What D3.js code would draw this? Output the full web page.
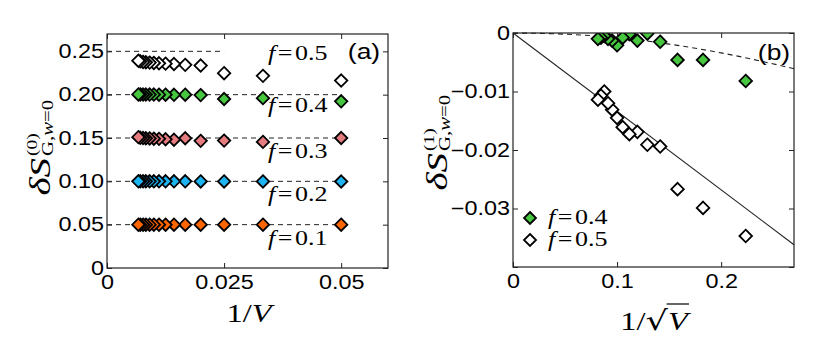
<!doctype html>
<html lang="en">
<head>
<meta charset="utf-8">
<title></title>
<script src="https://d3js.org/d3.v7.min.js"></script>
<style type="text/css">
    body { margin:0; background:#fff; }
    svg text { fill:#000; }
</style>
</head>

<body>
</body>

<script type="text/javascript">

    // x values: 1/V and 1/sqrt(V) for V = 20, 30, ... 150
    var invV     = [0.05, 0.0333, 0.025, 0.02, 0.0167, 0.0143, 0.0125, 0.0111, 0.01, 0.0091, 0.0083, 0.0077, 0.0071, 0.0067];
    var invSqrtV = [0.2236, 0.1826, 0.1581, 0.1414, 0.1291, 0.1195, 0.1118, 0.1054, 0.1, 0.0953, 0.0913, 0.0877, 0.0845, 0.0816];

    // panel (a): dS^(0) per f
    var a_f01 = [0.0500, 0.0500, 0.0500, 0.0500, 0.0500, 0.0500, 0.0500, 0.0500, 0.0500, 0.0500, 0.0500, 0.0500, 0.0500, 0.0500];
    var a_f02 = [0.0998, 0.0999, 0.0999, 0.0999, 0.1000, 0.1000, 0.1000, 0.1000, 0.1000, 0.1000, 0.1000, 0.1000, 0.1000, 0.1000];
    var a_f03 = [0.1500, 0.1455, 0.1470, 0.1467, 0.1497, 0.1480, 0.1485, 0.1490, 0.1492, 0.1495, 0.1497, 0.1500, 0.1502, 0.1510];
    var a_f04 = [0.1923, 0.1960, 0.1950, 0.1995, 0.2000, 0.1998, 0.2000, 0.2000, 0.2001, 0.2001, 0.2002, 0.2002, 0.2003, 0.2003];
    var a_f05 = [0.2163, 0.2217, 0.2248, 0.2336, 0.2344, 0.2354, 0.2358, 0.2362, 0.2366, 0.2370, 0.2374, 0.2378, 0.2384, 0.2392];
    var a_f    = ["0.1", "0.2", "0.3", "0.4", "0.5"];
    var a_levels = [0.05, 0.10, 0.15, 0.20, 0.25];
    var a_levelEnd = [0.05, 0.05, 0.05, 0.05, 0.025];

    // panel (b): dS^(1)
    var b_f04 = [-0.0082, -0.0046, -0.0046, -0.0015, -0.0001, -0.0013, -0.0002, -0.0008, -0.0021, -0.0013, -0.0010, -0.0005, -0.0008, -0.0010];
    var b_f05 = [-0.0347, -0.0299, -0.0267, -0.0194, -0.0191, -0.0169, -0.0173, -0.0161, -0.0145, -0.0131, -0.0120, -0.0100, -0.0107, -0.0114];
    var b_f   = ["0.4", "0.5"];
    var b_solid  = [[0, 0], [0.27, -0.0362]];
    var b_dashed = [[0, 0], [0.05, -0.0002], [0.1, -0.0008], [0.15, -0.0019], [0.2, -0.0034], [0.27, -0.0061]];

    var a_xTicks = [0, 0.025, 0.05];
    var a_yTicks = [0, 0.05, 0.10, 0.15, 0.20, 0.25];
    var b_xTicks = [0, 0.1, 0.2];
    var b_yTicks = [0, -0.01, -0.02, -0.03, -0.04];

    var colA = ["#ff6600", "#1db4f2", "#e57d80", "#47c640", "#ffffff"];
    var colB = ["#47c640", "#ffffff"];

    var W = 829, H = 344;
    var SX = 1.3;           // the original figure is horizontally stretched
    var serif = "'Liberation Serif', serif";
    var sans  = "'Liberation Sans', Arial, sans-serif";

    var svg = d3.select("body").append("svg")
                .attr("width", W).attr("height", H);

    function diamond(r) { return "M0," + (-r) + "L" + r + ",0L0," + r + "L" + (-r) + ",0Z"; }

    // math-ish text helper: parts = [[string, italic, dx]]
    function mtext(g, x, y, parts, size, anchor) {
        var t = g.append("text")
                 .attr("transform", "translate(" + x + "," + y + ") scale(" + SX + ",1)")
                 .attr("font-family", serif).attr("font-size", size)
                 .attr("text-anchor", anchor || "start");
        parts.forEach(function(p) {
            t.append("tspan").text(p[0])
             .attr("font-style", p[1] ? "italic" : "normal")
             .attr("dx", p[2] || 0);
        });
        return t;
    }

    function frame(x, y, xt, yt, xfmt, yfmt) {
        var g = svg.append("g");
        var tickStyle = function(sel) {
            sel.select(".domain").remove();
            sel.selectAll("line").attr("stroke", "#222");
        };
        g.append("g").attr("transform", "translate(0," + y.range()[0] + ")")
         .call(d3.axisBottom(x).tickValues(xt).tickSize(-5).tickPadding(7).tickFormat(xfmt))
         .call(tickStyle);
        g.append("g").attr("transform", "translate(0," + y.range()[1] + ")")
         .call(d3.axisTop(x).tickValues(xt).tickSize(-5).tickFormat(""))
         .call(tickStyle);
        g.append("g").attr("transform", "translate(" + x.range()[0] + ",0)")
         .call(d3.axisLeft(y).tickValues(yt).tickSize(-5).tickPadding(2.5).tickFormat(yfmt))
         .call(tickStyle);
        g.append("g").attr("transform", "translate(" + x.range()[1] + ",0)")
         .call(d3.axisRight(y).tickValues(yt).tickSize(-5).tickFormat(""))
         .call(tickStyle);
        g.selectAll("text")
         .attr("font-family", sans).attr("font-size", 19.5).attr("fill", "#000")
         .attr("transform", "scale(1.2,1)");
        g.append("rect")
         .attr("x", x.range()[0]).attr("y", y.range()[1])
         .attr("width", x.range()[1] - x.range()[0])
         .attr("height", y.range()[0] - y.range()[1])
         .attr("fill", "none").attr("stroke", "#222").attr("stroke-width", 1.2);
        return g;
    }

    // ---------- panel (a) ----------
    var xA = d3.scaleLinear().domain([0, 0.06]).range([107, 388]);
    var yA = d3.scaleLinear().domain([0, 0.27]).range([268, 34]);

    var gA = svg.append("g");
    gA.selectAll("line.ref").data(a_levels).enter().append("line")
      .attr("x1", xA(0)).attr("x2", function(d, i) { return xA(a_levelEnd[i]); })
      .attr("y1", function(d) { return yA(d); }).attr("y2", function(d) { return yA(d); })
      .attr("stroke", "#222").attr("stroke-width", 1).attr("stroke-dasharray", "5,4");

    var seriesA = [a_f01, a_f02, a_f03, a_f04, a_f05];
    seriesA.forEach(function(vals, k) {
        gA.append("g").selectAll("path").data(vals).enter().append("path")
          .attr("d", diamond(6.2))
          .attr("transform", function(d, i) { return "translate(" + xA(invV[i]) + "," + yA(d) + ")"; })
          .attr("fill", colA[k]).attr("stroke", "#000").attr("stroke-width", 1.8);
    });

    var a_labelDy = [20, 20, 20, 17.5, 8.5];
    a_f.forEach(function(f, k) {
        mtext(gA, 268, yA(a_levels[k]) + a_labelDy[k], [["f", true], ["=", false, 2], ["0" + f.slice(1), false, 2]], 20);
    });

    frame(xA, yA, a_xTicks, a_yTicks,
          function(d) { return d === 0 ? "0" : d3.format("")(d); },
          function(d) { return d === 0 ? "0" : d3.format(".2f")(d); });

    gA.append("text").text("(a)")
      .attr("transform", "translate(364,59) scale(1.2,1)")
      .attr("text-anchor", "middle").attr("font-family", sans).attr("font-size", 22);

    mtext(svg, 249, 322, [["1/", false], ["V", true]], 25, "middle");

    // ---------- panel (b) ----------
    var xB = d3.scaleLinear().domain([0, 0.27]).range([513, 794]);
    var yB = d3.scaleLinear().domain([-0.04, 0]).range([267, 33]);

    var gB = svg.append("g");
    var clipB = svg.append("clipPath").attr("id", "clipB").append("rect")
        .attr("x", 513).attr("y", 33).attr("width", 281).attr("height", 234);
    var line = d3.line().x(function(d) { return xB(d[0]); }).y(function(d) { return yB(d[1]); });
    gB.append("path").datum(b_solid).attr("d", line)
      .attr("fill", "none").attr("stroke", "#222").attr("stroke-width", 1.1);
    gB.append("path").datum(b_dashed).attr("d", line.curve(d3.curveMonotoneX))
      .attr("fill", "none").attr("stroke", "#222").attr("stroke-width", 1.1).attr("stroke-dasharray", "5,4");

    [b_f04, b_f05].forEach(function(vals, k) {
        gB.append("g").attr("clip-path", "url(#clipB)")
          .selectAll("path").data(vals).enter().append("path")
          .attr("d", diamond(6.3))
          .attr("transform", function(d, i) { return "translate(" + xB(invSqrtV[i]) + "," + yB(d) + ")"; })
          .attr("fill", colB[k]).attr("stroke", "#000").attr("stroke-width", 1.8);
    });

    frame(xB, yB, b_xTicks, b_yTicks,
          function(d) { return d3.format("")(d); },
          function(d) { return d === -0.04 ? "" : (d === 0 ? "0" : d3.format(".2f")(d)); });

    gB.append("text").text("(b)")
      .attr("transform", "translate(774,60) scale(1.2,1)")
      .attr("text-anchor", "middle").attr("font-family", sans).attr("font-size", 22);

    // legend
    b_f.forEach(function(f, k) {
        var ly = 218 + k * 22;
        gB.append("path").attr("d", diamond(6))
          .attr("transform", "translate(530," + ly + ")")
          .attr("fill", colB[k]).attr("stroke", "#000").attr("stroke-width", 1.8);
        mtext(gB, 548, ly + 6, [["f", true], ["=", false, 2], [f, false, 2]], 20);
    });

    // x label with radical
    var gx = svg.append("g").attr("transform", "translate(654,330) scale(" + SX + ",1)");
    var tx = gx.append("text").attr("font-family", serif).attr("font-size", 25).attr("text-anchor", "middle");
    tx.append("tspan").text("1/");
    tx.append("tspan").text("\u221A").attr("font-family", "'DejaVu Serif', serif").attr("font-size", 27);
    var tv = tx.append("tspan").text("V").attr("font-style", "italic");
    var ext = tv.node().getExtentOfChar(0);
    gx.append("line")
      .attr("x1", ext.x - 1).attr("x2", ext.x + ext.width + 1)
      .attr("y1", -26).attr("y2", -26)
      .attr("stroke", "#000").attr("stroke-width", 1.2);

    // ---------- y labels ----------
    function ylab(x, y, sup) {
        var g = svg.append("g").attr("transform", "translate(" + x + "," + y + ") rotate(-90)");
        g.append("text").attr("transform", "translate(-6,0) scale(" + SX + ",1)")
         .attr("font-family", serif).attr("font-size", 30).attr("font-style", "italic")
         .attr("text-anchor", "end").text("\u03B4S");
        g.append("text").attr("transform", "translate(-4,-13) scale(" + SX + ",1)")
         .attr("font-family", serif).attr("font-size", 15).text("(" + sup + ")");
        var s = g.append("text").attr("transform", "translate(-4,3) scale(" + SX + ",1)")
         .attr("font-family", serif).attr("font-size", 16);
        s.append("tspan").text("G,");
        s.append("tspan").text("w").attr("font-style", "italic");
        s.append("tspan").text("=0");
    }
    ylab(50, 152, "0");
    ylab(447, 147, "1");

</script>

</html>
